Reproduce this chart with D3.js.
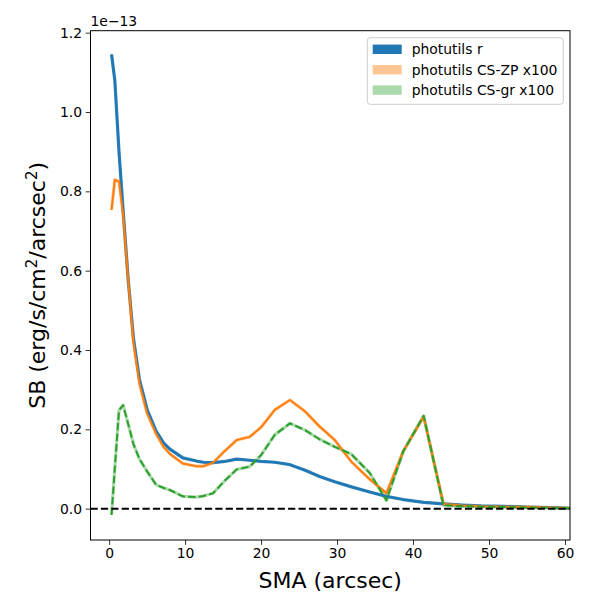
<!DOCTYPE html>
<html>
<head>
<meta charset="utf-8">
<script src="https://cdn.jsdelivr.net/npm/d3@7"></script>
<style>
  body { margin: 0; background: #fff; }
  text { font-family: "DejaVu Sans", sans-serif; }
</style>
</head>
<body>
<div id="chart"></div>
<script>
// semi-major axis (arcsec)
const sma = [0.32, 0.75, 1.3, 1.85, 2.5, 3.2, 4.0, 5.0, 6.2, 7.2, 8.0, 9.7, 11.5, 12.4, 13.7, 15.2, 16.8, 18.5,
    20.0, 21.8, 23.8, 25.8, 27.7, 29.7, 31.9, 34.3, 36.5, 38.7, 41.4, 44.0, 46.5, 49.0, 52.0, 55.0, 58.0, 60.7];
// surface brightness, in units of 1e-13
const sbR = [1.145, 1.08, 0.90, 0.75, 0.58, 0.43, 0.325, 0.25, 0.195, 0.165, 0.150, 0.128, 0.120, 0.117, 0.116, 0.119, 0.125, 0.122,
    0.119, 0.117, 0.111, 0.097, 0.081, 0.068, 0.055, 0.042, 0.031, 0.023, 0.016, 0.012, 0.009, 0.007, 0.006, 0.004, 0.003, 0.001];
const sbZP = [0.753, 0.829, 0.825, 0.74, 0.58, 0.42, 0.315, 0.24, 0.188, 0.155, 0.138, 0.114, 0.107, 0.107, 0.116, 0.145, 0.173, 0.181,
    0.205, 0.249, 0.274, 0.245, 0.207, 0.173, 0.118, 0.074, 0.039, 0.144, 0.232, 0.012, 0.008, 0.006, 0.005, 0.004, 0.003, 0.001];
const sbGR = [-0.016, 0.102, 0.248, 0.261, 0.214, 0.163, 0.125, 0.094, 0.06, 0.052, 0.047, 0.031, 0.029, 0.032, 0.039, 0.07, 0.099, 0.106,
    0.135, 0.186, 0.215, 0.198, 0.175, 0.156, 0.137, 0.09, 0.021, 0.144, 0.234, 0.009, 0.006, 0.005, 0.004, 0.003, 0.002, 0.001];

const legendLabels = ["photutils r", "photutils CS-ZP x100", "photutils CS-gr x100"];
const xTicks = [0, 10, 20, 30, 40, 50, 60];
const yTicks = [0.0, 0.2, 0.4, 0.6, 0.8, 1.0, 1.2];

const WIDTH = 600;
const HEIGHT = 600;
const MARGINS = {top: 30.7, right: 30, bottom: 60, left: 90.5};
const TICK_FONT = 13.9;

const svg = d3.select("#chart").append("svg")
    .attr("width", WIDTH)
    .attr("height", HEIGHT)
    .attr("viewBox", [0, 0, WIDTH, HEIGHT]);

const x = d3.scaleLinear().domain([-2.45, 60.66]).range([MARGINS.left, WIDTH - MARGINS.right]);
const y = d3.scaleLinear().domain([-0.079, 1.205]).range([HEIGHT - MARGINS.bottom, MARGINS.top]);

svg.append("clipPath").attr("id", "plotclip")
    .append("rect")
    .attr("x", MARGINS.left).attr("y", MARGINS.top)
    .attr("width", WIDTH - MARGINS.left - MARGINS.right)
    .attr("height", HEIGHT - MARGINS.top - MARGINS.bottom);

const plot = svg.append("g").attr("clip-path", "url(#plotclip)");

const line = d3.line().x((d, i) => x(sma[i])).y(d => y(d));

// series: values, colour, band alpha, dashed
const series = [
    {values: sbR, color: "#1f77b4", alpha: 0.9, dash: null},
    {values: sbZP, color: "#ff7f0e", alpha: 0.45, dash: null},
    {values: sbGR, color: "#2ca02c", alpha: 0.4, dash: "7.4,3.2"}
];

// light band under each line
series.forEach(function(s) {
    plot.append("path")
        .attr("d", line(s.values))
        .style("fill", "none")
        .style("stroke", s.color)
        .style("stroke-opacity", s.alpha)
        .style("stroke-width", 3.2)
        .style("stroke-linejoin", "round");
});

series.forEach(function(s) {
    plot.append("path")
        .attr("d", line(s.values))
        .style("fill", "none")
        .style("stroke", s.color)
        .style("stroke-width", 2)
        .style("stroke-dasharray", s.dash)
        .style("stroke-linejoin", "round");
});

// zero line
plot.append("line")
    .attr("x1", MARGINS.left).attr("x2", WIDTH - MARGINS.right)
    .attr("y1", y(0)).attr("y2", y(0))
    .style("stroke", "black")
    .style("stroke-width", 2)
    .style("stroke-dasharray", "7.2,3.2");

// axes
const xAxis = svg.append("g")
    .attr("transform", `translate(0,${HEIGHT - MARGINS.bottom})`)
    .call(d3.axisBottom(x).tickValues(xTicks).tickSize(4.9).tickPadding(3.5).tickFormat(d3.format("d")));
const yAxis = svg.append("g")
    .attr("transform", `translate(${MARGINS.left},0)`)
    .call(d3.axisLeft(y).tickValues(yTicks).tickSize(4.9).tickPadding(3.5).tickFormat(d3.format(".1f")));
[xAxis, yAxis].forEach(function(a) {
    a.select(".domain").remove();
    a.selectAll("line").style("stroke", "black").style("stroke-width", 0.8);
    a.selectAll("text").style("font-size", TICK_FONT + "px").style("font-family", "DejaVu Sans").attr("fill", "black");
});

// frame
svg.append("rect")
    .attr("x", MARGINS.left).attr("y", MARGINS.top)
    .attr("width", WIDTH - MARGINS.left - MARGINS.right)
    .attr("height", HEIGHT - MARGINS.top - MARGINS.bottom)
    .style("fill", "none")
    .style("stroke", "black")
    .style("stroke-width", 1);

// offset text
svg.append("text")
    .text("1e\u221213")
    .attr("x", MARGINS.left)
    .attr("y", 26)
    .style("font-size", TICK_FONT + "px");

// axis labels
svg.append("text")
    .text("SMA (arcsec)")
    .attr("x", (MARGINS.left + WIDTH - MARGINS.right) / 2)
    .attr("y", 587.5)
    .attr("text-anchor", "middle")
    .style("font-size", "22px");

const ylab = svg.append("text")
    .attr("transform", `translate(45,${(MARGINS.top + HEIGHT - MARGINS.bottom) / 2}) rotate(-90)`)
    .attr("text-anchor", "middle")
    .style("font-size", "22px");
ylab.append("tspan").text("SB (erg/s/cm");
ylab.append("tspan").text("2").attr("dy", -8).style("font-size", "15px");
ylab.append("tspan").text("/arcsec").attr("dy", 8);
ylab.append("tspan").text("2").attr("dy", -8).style("font-size", "15px");
ylab.append("tspan").text(")").attr("dy", 8);

// legend
const legend = svg.append("g").attr("transform", "translate(367.3,37.7)");
legend.append("rect")
    .attr("width", 196).attr("height", 66.6)
    .attr("rx", 3)
    .style("fill", "white")
    .style("fill-opacity", 0.8)
    .style("stroke", "#cccccc")
    .style("stroke-width", 1);
legendLabels.forEach(function(label, i) {
    var row = 11.6 + i * 20.4;
    legend.append("rect")
        .attr("x", 5.4).attr("y", row - 4.7)
        .attr("width", 29).attr("height", 9.4)
        .style("fill", series[i].color)
        .style("fill-opacity", i == 0 ? 1 : series[i].alpha);
    legend.append("text")
        .text(label)
        .attr("x", 44.4)
        .attr("y", row + 5)
        .style("font-size", TICK_FONT + "px");
});
</script>
</body>
</html>
